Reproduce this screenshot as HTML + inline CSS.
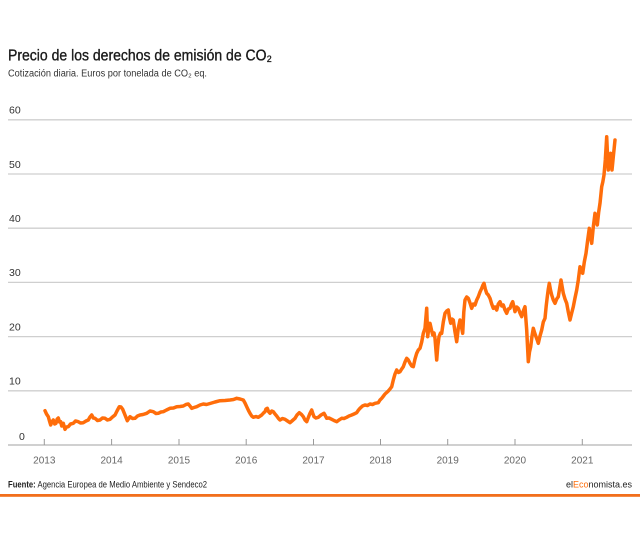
<!DOCTYPE html>
<html>
<head>
<meta charset="utf-8">
<style>
html,body{margin:0;padding:0;background:#fff;}
svg{display:block;}
text{font-family:"Liberation Sans",sans-serif;}
</style>
</head>
<body>
<svg width="640" height="540" viewBox="0 0 640 540" xmlns="http://www.w3.org/2000/svg">
<rect width="640" height="540" fill="#fff"/>
<text x="8" y="60.5" font-size="15.5" fill="#1a1a1a" textLength="264" lengthAdjust="spacingAndGlyphs" style="font-weight:normal" stroke="#1a1a1a" stroke-width="0.35">Precio de los derechos de emisión de CO₂</text>
<text x="8" y="76.5" font-size="10" fill="#333" textLength="199" lengthAdjust="spacingAndGlyphs">Cotización diaria. Euros por tonelada de CO₂ eq.</text>

<g stroke="#cfcfcf" stroke-width="1.3">
<line x1="8" y1="119.8" x2="632" y2="119.8"/>
<line x1="8" y1="174" x2="632" y2="174"/>
<line x1="8" y1="228.2" x2="632" y2="228.2"/>
<line x1="8" y1="282.4" x2="632" y2="282.4"/>
<line x1="8" y1="336.6" x2="632" y2="336.6"/>
<line x1="8" y1="390.8" x2="632" y2="390.8"/>
</g>
<line x1="8" y1="445" x2="632" y2="445" stroke="#b5b5b5" stroke-width="1.3"/>
<g stroke="#999" stroke-width="1">
<line x1="44.3" y1="439" x2="44.3" y2="445"/>
<line x1="111.6" y1="439" x2="111.6" y2="445"/>
<line x1="179" y1="439" x2="179" y2="445"/>
<line x1="246.2" y1="439" x2="246.2" y2="445"/>
<line x1="313.5" y1="439" x2="313.5" y2="445"/>
<line x1="380.5" y1="439" x2="380.5" y2="445"/>
<line x1="447.7" y1="439" x2="447.7" y2="445"/>
<line x1="515" y1="439" x2="515" y2="445"/>
<line x1="582.3" y1="439" x2="582.3" y2="445"/>
</g>

<g font-size="10.5" fill="#333">
<text x="9" y="113.5">60</text>
<text x="9" y="167.8">50</text>
<text x="9" y="222">40</text>
<text x="9" y="276.2">30</text>
<text x="9" y="330.4">20</text>
<text x="9" y="384.6">10</text>
<text x="19" y="440">0</text>
</g>

<g font-size="10" fill="#666" text-anchor="middle">
<text x="44.3" y="463.5">2013</text>
<text x="111.6" y="463.5">2014</text>
<text x="179" y="463.5">2015</text>
<text x="246.2" y="463.5">2016</text>
<text x="313.5" y="463.5">2017</text>
<text x="380.5" y="463.5">2018</text>
<text x="447.7" y="463.5">2019</text>
<text x="515" y="463.5">2020</text>
<text x="582.3" y="463.5">2021</text>
</g>

<polyline fill="none" stroke="#ff6d0a" stroke-width="3.5" stroke-linejoin="round" stroke-linecap="round" points="
45,410.7 46.5,414 48.3,416.7 49.5,421 50.7,425 52,421.5 53.3,420 54.7,424 56,423.3 57.2,419 58.3,418 59.5,422 60.7,421.7 61.7,426 63.3,423.3 65,429.3 66.5,427 68.3,426.7 70.5,424 73.3,423.3 75.5,421 78.3,421.7 80.5,423 83.3,422.7 86,421 88.3,420 90,417 91.7,415 93.3,418 95,418.3 97.5,420.5 100,420 102.5,418 105,418.3 107.5,420 110,419.3 112.5,417 115,415 117,411 119.3,406.7 121,407 122.7,409.3 125,415 127.3,420.7 130,416.7 132.5,418.5 135,418.3 137.5,416 140,415 143,414.5 146.7,413.3 150,411 153.3,411.7 156,413.5 158.3,413.3 161,412 163.3,411.7 166.5,410 170,408.3 173.5,408 176.7,406.7 180,406.5 183.3,406 186,404.5 188.3,404 190,406 191.7,408.3 194,407.5 196.7,406.7 200,405 203.3,404 206.5,404.5 210,403.5 215,402 220,400.7 225,400.5 230,400 233.5,399.5 236.7,398.3 240,399 243.3,400 245,403 246.7,406.7 248.5,410.5 250,413.3 251.7,416 253.3,417.3 256,416.5 258.3,417.3 261.7,415 263.5,413 265,411.7 266,409 267.3,408.3 268.5,411.5 270,413.3 271.7,411 273.3,411.7 275,414 276.7,416 278.5,418.5 280,420 282.5,418.5 285,419.3 287.5,421 290,422.7 292.5,420.5 295,418.3 297,415 299.3,412.7 301.5,414.5 303.3,416.7 305,420 306.7,421.7 308.5,417 310,413.3 311.7,410 313,414 314,416.7 316,418 318.3,417.3 321,415 324,413.3 325.5,416 326.7,418.3 329,418 331.7,419.3 334,420.5 336.7,421.7 339,420 341.7,418.3 344,418.5 346.7,417.3 349,416 351.7,415 354,414 356.7,412.7 358.5,410 360,408.3 362.5,406 365,405 367.5,405.5 370,404 372.5,404.5 375,403.3 378.3,402.7 380,400 381.7,398.3 383.5,396 385,394 386.7,392.5 388.3,391 390,389 391.7,386.7 393.3,380 395,374 396.7,370 398.5,372.5 400,371.7 401.7,369 403.3,366.7 405,362 406.7,358.3 408.3,360 410,363.3 411.7,366 413.3,366.7 415,359 416.7,353.3 418.3,350 420,348.3 421.7,342 423.3,333.3 425,328.3 426.7,308.3 427.7,336.7 428.8,328 430,323.3 431.5,330 432.7,335 434,333 435,338.3 436.7,360 437.8,346 439,336.7 440.5,333 441.7,333.3 443.3,322 445,313.3 446.7,311 448.3,310 449.5,318 450.7,323.3 452,319 453.3,320 455,332 456.7,341.7 458.3,328 460,320 461.3,326 462.7,333.3 463.8,312 465,300 466.7,297 468.3,298.3 470,303 471.7,308.3 473.3,304 475,305 476.7,300 478.3,296.7 480,292 481.7,288.3 483,285 484,283.3 485.3,289 486.7,293.3 488.3,295 490,298.3 491.7,304 493.3,308.3 495,307 496.7,310 498.3,304 500,301.7 501.7,306 503.3,305 505,310 506.7,313.3 508.3,309 510,308.3 511.5,304 512.7,301.7 514,307 515,311.7 516.7,307 518.3,308.3 520,313 521.7,316.7 523.3,311 525,306.7 525.8,318 526.7,330 527.5,346 528.3,361.7 529.5,352 530.7,346.7 532,336 533.3,328.3 534.7,333 536,336.7 537.2,340 538.3,343.3 540,336 541.7,330 543.3,322 545,318.3 546.2,306 547.3,296.7 548.3,289 549.3,283.3 550.5,290 551.7,295 553.3,300 555,303.3 556.7,299 558.3,296.7 559.7,288 561,280 562.2,287 563.3,293.3 565,299 566.7,303.3 568.3,312 570,320 571.7,313 573.3,306.7 575,298 576.7,290 578.3,280 580,266.7 581.3,270 582.7,273.3 584.3,262 586,253.3 587.7,240 589.3,228.3 590.5,236 591.7,243.3 593.3,227 595,213.3 596.2,220 597.3,225 598.7,212 600,203.3 601.7,186.7 602.8,182 604,175 605.3,160 606.7,136.7 607.5,155 608.3,170 609.5,160 610.7,153.3 611.3,162 612,170 612.7,163 613.3,156.7 614.2,148 615,140"/>

<text x="8" y="487.5" font-size="9" fill="#222" textLength="199" lengthAdjust="spacingAndGlyphs"><tspan font-weight="bold">Fuente:</tspan> Agencia Europea de Medio Ambiente y Sendeco2</text>
<text x="632" y="487.5" font-size="9" fill="#222" text-anchor="end">el<tspan fill="#ff6d0a">Eco</tspan>nomista.es</text>

<rect x="0" y="494" width="640" height="2.8" fill="#f26f1c"/>
</svg>
</body>
</html>
